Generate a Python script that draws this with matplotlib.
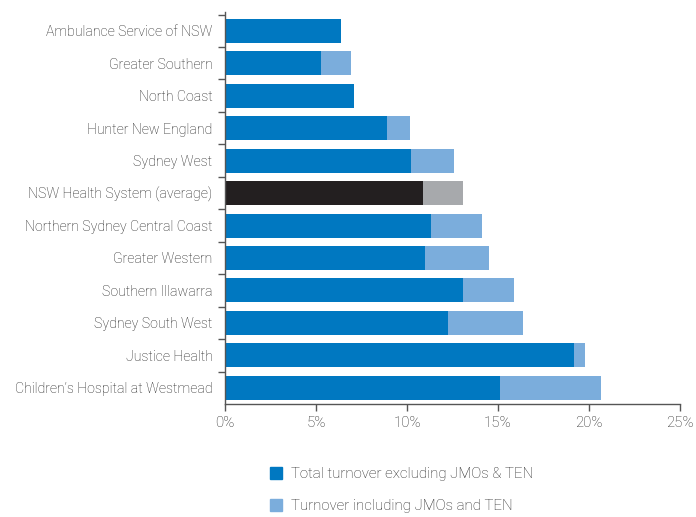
import numpy as np
import matplotlib
matplotlib.use("Agg")
import matplotlib.pyplot as plt
from matplotlib.patches import Patch

plt.rcParams['font.family'] = ['Roboto', 'DejaVu Sans']
plt.rcParams['font.weight'] = 'light'

# Data (percent)
categories = ['Ambulance Service of NSW', 'Greater Southern', 'North Coast',
              'Hunter New England', 'Sydney West', 'NSW Health System (average)',
              'Northern Sydney Central Coast', 'Greater Western', 'Southern Illawarra',
              'Sydney South West', 'Justice Health', "Children’s Hospital at Westmead"]
excl_jmo = [6.4, 5.3, 7.1, 8.9, 10.2, 10.9, 11.3, 11.0, 13.1, 12.25, 19.2, 15.1]
incl_jmo = [6.4, 6.9, 7.1, 10.15, 12.6, 13.1, 14.1, 14.5, 15.9, 16.4, 19.8, 20.65]
xticks = [0, 5, 10, 15, 20, 25]
legend_labels = ['Total turnover excluding JMOs & TEN', 'Turnover including JMOs and TEN']

blue = '#0078C1'
light_blue = '#7BADDC'
dark = '#231F20'
grey = '#A7A9AC'
text_col = '#222222'

excl = np.array(excl_jmo)
extra = np.array(incl_jmo) - excl
avg_idx = categories.index('NSW Health System (average)')
c1 = [dark if i == avg_idx else blue for i in range(len(categories))]
c2 = [grey if i == avg_idx else light_blue for i in range(len(categories))]

fig = plt.figure(figsize=(6.96, 5.17), dpi=100)
ax = fig.add_axes([0.3233, 0.2186, 0.6537, 0.7582])

y = np.arange(len(categories))
ax.barh(y, excl, height=0.74, color=c1)
ax.barh(y, extra, left=excl, height=0.74, color=c2)

ax.set_ylim(len(categories) - 0.5, -0.58)
ax.set_xlim(0, 25)
ax.set_xticks(xticks)
ax.set_xticklabels([f'{t}%' for t in xticks])
ax.set_yticks(y)
ax.set_yticklabels(categories)
ax.set_yticks(np.arange(len(categories)) - 0.5, minor=True)
ax.tick_params(axis='y', which='major', length=0, pad=9, labelsize=10.2, labelcolor=text_col)
ax.tick_params(axis='y', which='minor', length=5, width=1, color='#555555', direction='out')
ax.tick_params(axis='x', length=5, width=1, color='#555555', pad=4, labelsize=10.8, labelcolor=text_col)

for s in ['top', 'right']:
    ax.spines[s].set_visible(False)
for s in ['left', 'bottom']:
    ax.spines[s].set_color('#555555')
    ax.spines[s].set_linewidth(1)

handles = [Patch(color=blue), Patch(color=light_blue)]
fig.legend(handles, legend_labels, loc='upper left', bbox_to_anchor=(0.368, 0.123),
           frameon=False, fontsize=10.8, handlelength=0.85, handleheight=0.85,
           handletextpad=0.6, labelspacing=1.2, labelcolor=text_col)

fig.savefig('out.png', dpi=100)
